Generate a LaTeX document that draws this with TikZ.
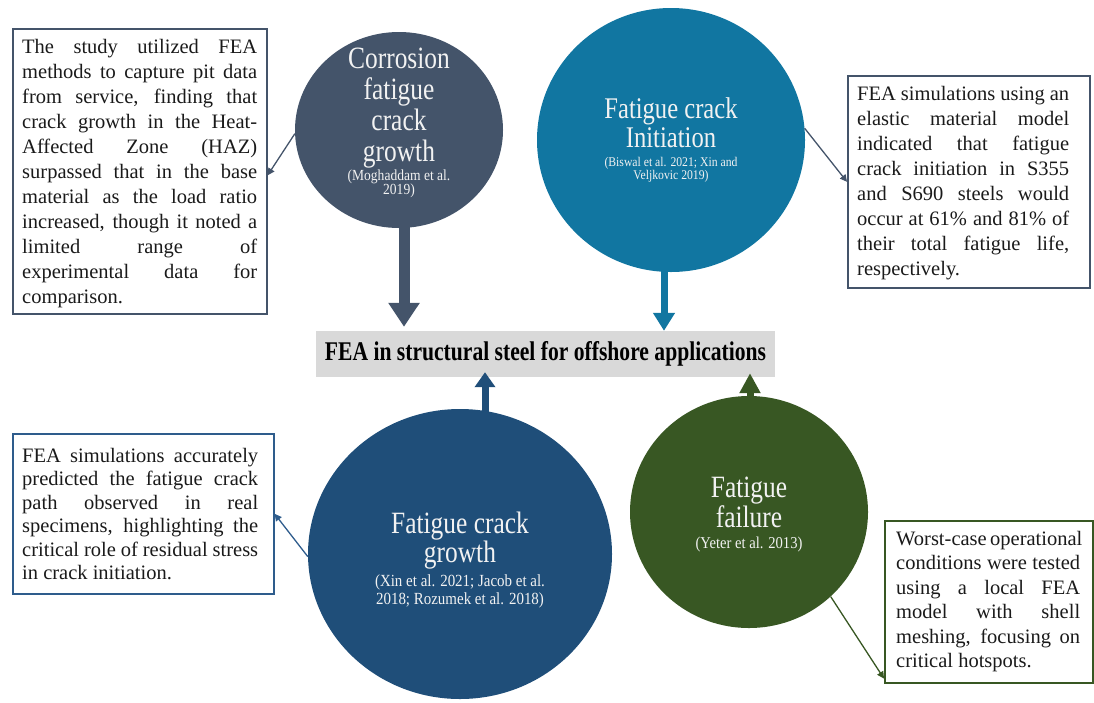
\documentclass[tikz,border=0pt]{standalone}
\usepackage{fontspec}
\setmainfont{Liberation Serif}
\usepackage{graphicx}
\usetikzlibrary{arrows.meta,calc,shapes.geometric}

\definecolor{cslate}{HTML}{44546A}
\definecolor{cteal}{HTML}{1176A1}
\definecolor{cnavy}{HTML}{1F4E79}
\definecolor{cgreen}{HTML}{385723}
\definecolor{cgray}{HTML}{D9D9D9}
\definecolor{cwhite}{HTML}{F2F2F2}
\definecolor{cblueline}{HTML}{2E5C8C}
\definecolor{ctext}{HTML}{1A1A1A}

% one justified line of a note (font spaces restored so they can stretch)
\newcommand\jl[1]{{\spaceskip=0pt\xspaceskip=0pt\makebox[\linewidth][s]{#1}}}
% last, unstretched line of a note
\newcommand\lastline[1]{{\spaceskip=0pt\xspaceskip=0pt #1}}
% narrow heading line inside a bubble
\newcommand\ctl[1]{\scalebox{0.82}[1]{#1}}
% citation line inside a bubble: size, text
\newcommand\ccite[2]{{\fontsize{#1}{#1}\selectfont\scalebox{0.88}[1]{#2}}}
\setlength\parindent{0pt}

\begin{document}
\begin{tikzpicture}[x=1pt,y=-1pt,
  bubble/.style={ellipse, inner sep=0pt, draw=none},
  bubtext/.style={text=cwhite, align=center, inner sep=0pt, font=\fontsize{31}{31}\selectfont},
  notebox/.style={draw, line width=1.6pt, fill=white, inner sep=0pt, anchor=north west},
  notetext/.style={anchor=west, inner sep=0pt, align=left, text=ctext, font=\fontsize{20.5}{25}\selectfont},
  fat/.style={line width=7pt, -{Triangle[width=21pt,length=18pt]}},
  link/.style={line width=1.3pt, -{Triangle[width=7pt,length=7pt]}},
]
\useasboundingbox (0,0) rectangle (1094,702);

% central title
\node[fill=cgray, minimum width=459pt, minimum height=46pt, inner sep=0pt] (title) at (545.5,354)
  {\fontsize{27}{30}\selectfont\bfseries\scalebox{0.8}[1]{FEA in structural steel for offshore applications}};

% bubbles
\node[bubble, fill=cslate, minimum width=208pt, minimum height=196pt] (corr) at (399,130) {};
\node[bubtext] (corrt) at ($(corr)+(0,-7)$)
  {\ctl{Corrosion}\\\ctl{fatigue}\\\ctl{crack}\\\ctl{growth}\\[-12pt]
   \ccite{15.4}{(Moghaddam et al.}\\[-17pt]\ccite{15.4}{2019)}};

\node[bubble, fill=cteal, minimum width=268pt, minimum height=264pt] (init) at (671,140) {};
\node[bubtext, font=\fontsize{30}{29}\selectfont] (initt) at (init)
  {\ctl{Fatigue crack}\\\ctl{Initiation}\\[-10pt]
   \ccite{13.3}{(Biswal et al. 2021; Xin and}\\[-15.5pt]\ccite{13.3}{Veljkovic 2019)}};

\node[bubble, fill=cnavy, minimum width=304pt, minimum height=290pt] (fcg) at (460,554) {};
\node[bubtext, font=\fontsize{31}{28}\selectfont] (fcgt) at ($(fcg)+(0,6)$)
  {\ctl{Fatigue crack}\\\ctl{growth}\\[-4pt]
   \ccite{17}{(Xin et al. 2021; Jacob et al.}\\[-10.5pt]\ccite{17}{2018; Rozumek et al. 2018)}};

\node[bubble, fill=cgreen, minimum width=238pt, minimum height=232pt] (fail) at (749,512) {};
\node[bubtext, font=\fontsize{31}{30}\selectfont] (failt) at ($(fail)+(0,2)$)
  {\ctl{Fatigue}\\\ctl{failure}\\[-9pt]
   \ccite{16.6}{(Yeter et al. 2013)}};

% arrows into the title
\draw[fat, draw=cslate, line width=11pt, -{Triangle[width=30pt,length=24pt]}]
  ($(corr.south)+(5,-3)$) -- ($(corr.south |- title.north)+(5,-4)$);
\draw[fat, draw=cteal] ($(init.south)+(-7,-3)$) -- ($(init.south |- title.north)+(-7,0)$);
\draw[fat, draw=cnavy, -{Triangle[width=20pt,length=15pt]}]
  ($(fcg.north)+(25,4)$) -- ($(fcg.north |- title.south)+(25,-5)$);
\draw[fat, draw=cgreen, -{Triangle[width=20pt,length=20pt]}]
  ($(fail.north)+(1,3)$) -- ($(fail.north |- title.south)+(1,-4)$);

% note boxes
\node[notebox, draw=cslate, minimum width=254pt, minimum height=285pt] (tl) at (12,28) {};
\node[notetext, text width=235pt] (tlt) at ($(tl.west)+(10,2)$) {%
\jl{The study utilized FEA}\\
\jl{methods to capture pit data}\\
\jl{from service, finding that}\\
\jl{crack growth in the Heat-}\\
\jl{Affected Zone (HAZ)}\\
\jl{surpassed that in the base}\\
\jl{material as the load ratio}\\
\jl{increased, though it noted a}\\
\jl{limited range of}\\
\jl{experimental data for}\\
\lastline{comparison.}};

\node[notebox, draw=cslate, minimum width=242pt, minimum height=212pt] (tr) at (847,75) {};
\node[notetext, text width=212pt] (trt) at ($(tr.west)+(10,1)$) {%
\jl{FEA simulations using an}\\
\jl{elastic material model}\\
\jl{indicated that fatigue}\\
\jl{crack initiation in S355}\\
\jl{and S690 steels would}\\
\jl{occur at 61\% and 81\% of}\\
\jl{their total fatigue life,}\\
\lastline{respectively.}};

\node[notebox, draw=cblueline, minimum width=261pt, minimum height=160pt] (bl) at (12,433) {};
\node[notetext, text width=236pt, font=\fontsize{20.5}{23.5}\selectfont] (blt) at ($(bl.west)+(10,0)$) {%
\jl{FEA simulations accurately}\\
\jl{predicted the fatigue crack}\\
\jl{path observed in real}\\
\jl{specimens, highlighting the}\\
\jl{critical role of residual stress}\\
\lastline{in crack initiation.}};

\node[notebox, draw=cgreen, minimum width=208pt, minimum height=162pt] (br) at (884,520) {};
\node[notetext, text width=184pt, font=\fontsize{20.5}{24.5}\selectfont] (brt) at ($(br.west)+(12,0)$) {%
\jl{Worst-case operational}\\
\jl{conditions were tested}\\
\jl{using a local FEA}\\
\jl{model with shell}\\
\jl{meshing, focusing on}\\
\lastline{critical hotspots.}};

% thin links from bubbles to notes
\draw[link, draw=cslate] (corr.182) -- ($(tl.east)+(0,4)$);
\draw[link, draw=cslate] (init.5) -- (tr.west);
\draw[link, draw=cblueline] (fcg.181) -- (bl.east);
\draw[link, draw=cgreen] (fail.-46) -- ($(br.south west)+(0,-5)$);
\end{tikzpicture}
\end{document}
